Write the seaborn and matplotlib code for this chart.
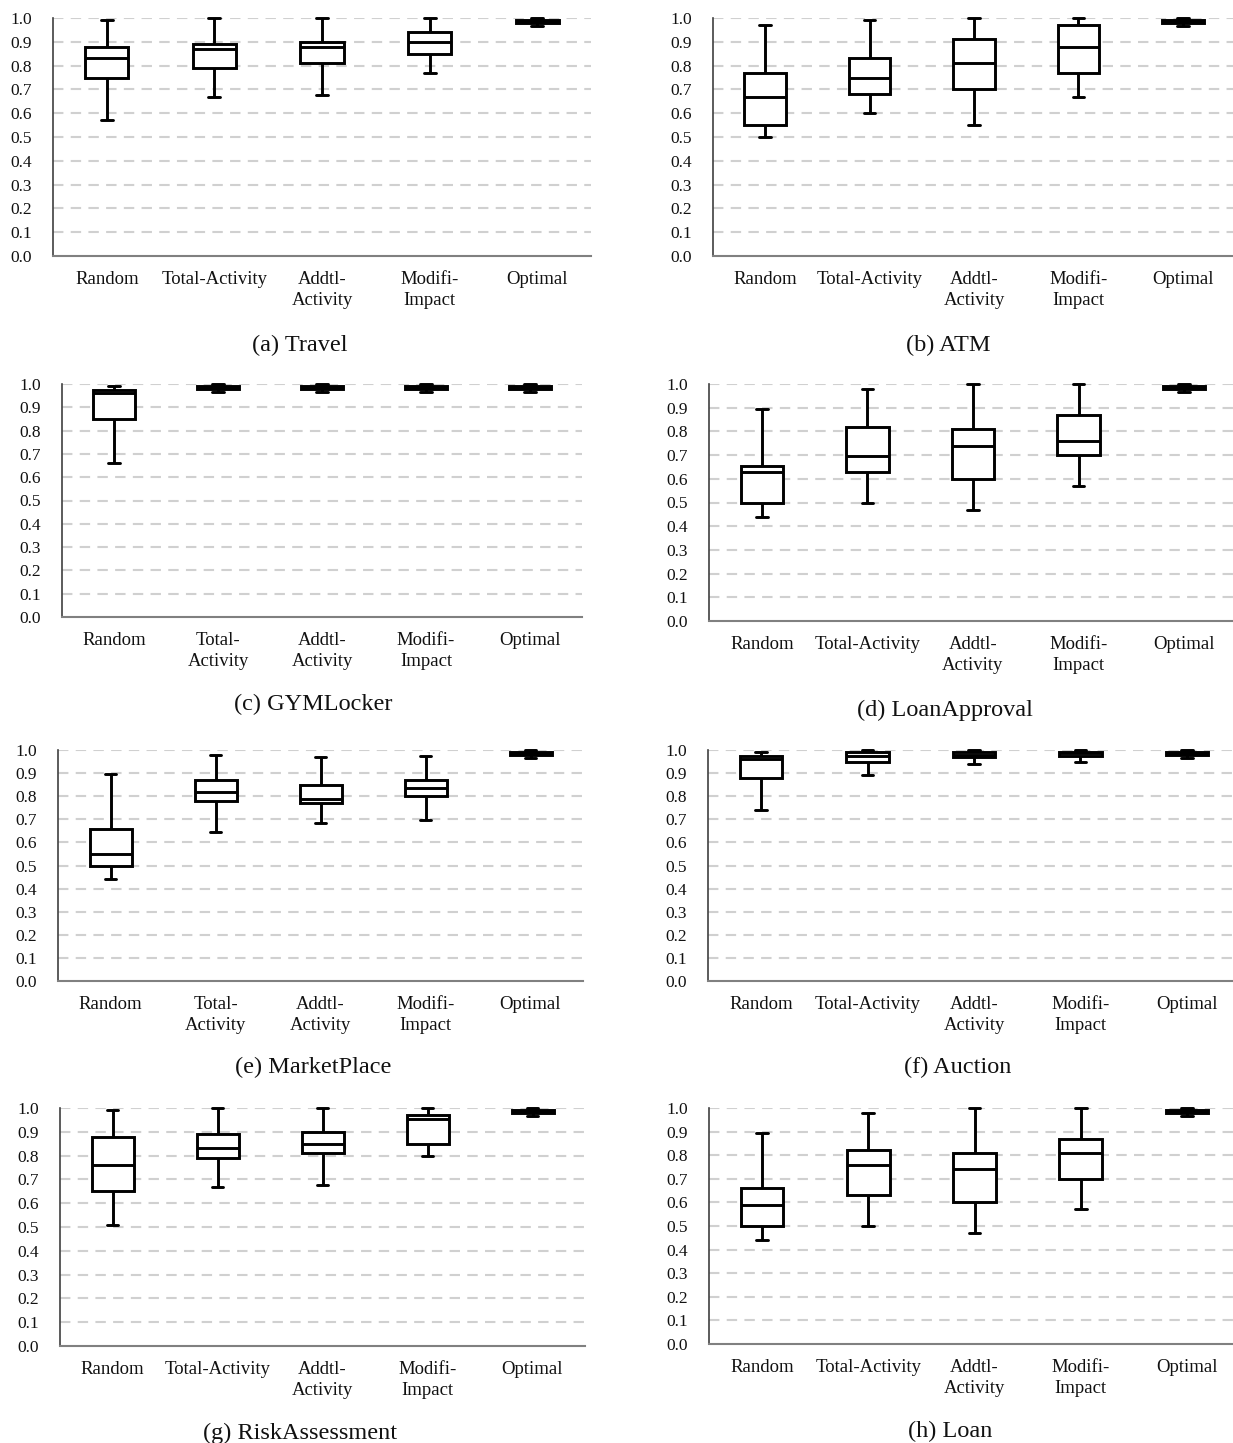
import numpy as np
import pandas as pd
import matplotlib
matplotlib.use("Agg")
import matplotlib.pyplot as plt
import seaborn as sns

# ---------------- data (five-number summaries: min, q1, median, q3, max) ----------------
methods = ["Random", "Total-Activity", "Addtl-Activity", "Modifi-Impact", "Optimal"]

labels_wrap_total = ["Random", "Total-\nActivity", "Addtl-\nActivity", "Modifi-\nImpact", "Optimal"]
labels_flat_total = ["Random", "Total-Activity", "Addtl-\nActivity", "Modifi-\nImpact", "Optimal"]

optimal = [0.965, 0.98, 0.985, 0.99, 1.0]

travel_random = [0.57, 0.75, 0.83, 0.88, 0.99]
travel_total = [0.67, 0.79, 0.87, 0.89, 1.0]
travel_addtl = [0.675, 0.81, 0.88, 0.90, 1.0]
travel_modifi = [0.77, 0.85, 0.90, 0.94, 1.0]

atm_random = [0.50, 0.55, 0.67, 0.77, 0.97]
atm_total = [0.60, 0.68, 0.75, 0.83, 0.99]
atm_addtl = [0.55, 0.70, 0.81, 0.91, 1.0]
atm_modifi = [0.67, 0.77, 0.88, 0.97, 1.0]

gym_random = [0.66, 0.85, 0.96, 0.975, 0.99]
gym_total = [0.965, 0.98, 0.985, 0.99, 1.0]
gym_addtl = [0.965, 0.98, 0.985, 0.99, 1.0]
gym_modifi = [0.965, 0.98, 0.985, 0.99, 1.0]

loanappr_random = [0.44, 0.50, 0.63, 0.655, 0.895]
loanappr_total = [0.50, 0.63, 0.695, 0.82, 0.98]
loanappr_addtl = [0.47, 0.60, 0.74, 0.81, 1.0]
loanappr_modifi = [0.57, 0.70, 0.76, 0.87, 1.0]

market_random = [0.44, 0.50, 0.55, 0.66, 0.895]
market_total = [0.645, 0.78, 0.82, 0.87, 0.98]
market_addtl = [0.685, 0.77, 0.79, 0.85, 0.97]
market_modifi = [0.695, 0.80, 0.835, 0.87, 0.975]

auction_random = [0.74, 0.88, 0.96, 0.975, 0.99]
auction_total = [0.89, 0.95, 0.975, 0.99, 1.0]
auction_addtl = [0.94, 0.97, 0.98, 0.99, 1.0]
auction_modifi = [0.95, 0.975, 0.985, 0.99, 1.0]

risk_random = [0.51, 0.65, 0.76, 0.88, 0.99]
risk_total = [0.67, 0.79, 0.83, 0.89, 1.0]
risk_addtl = [0.675, 0.81, 0.85, 0.90, 1.0]
risk_modifi = [0.80, 0.85, 0.955, 0.97, 1.0]

loan_random = [0.44, 0.50, 0.59, 0.66, 0.895]
loan_total = [0.50, 0.63, 0.76, 0.82, 0.98]
loan_addtl = [0.47, 0.60, 0.74, 0.81, 1.0]
loan_modifi = [0.57, 0.70, 0.81, 0.87, 1.0]

titles = ["(a) Travel", "(b) ATM", "(c) GYMLocker", "(d) LoanApproval",
          "(e) MarketPlace", "(f) Auction", "(g) RiskAssessment", "(h) Loan"]

panels = [
    [travel_random, travel_total, travel_addtl, travel_modifi, optimal],
    [atm_random, atm_total, atm_addtl, atm_modifi, optimal],
    [gym_random, gym_total, gym_addtl, gym_modifi, optimal],
    [loanappr_random, loanappr_total, loanappr_addtl, loanappr_modifi, optimal],
    [market_random, market_total, market_addtl, market_modifi, optimal],
    [auction_random, auction_total, auction_addtl, auction_modifi, optimal],
    [risk_random, risk_total, risk_addtl, risk_modifi, optimal],
    [loan_random, loan_total, loan_addtl, loan_modifi, optimal],
]
panel_labels = [labels_flat_total, labels_flat_total, labels_wrap_total, labels_flat_total,
                labels_wrap_total, labels_flat_total, labels_flat_total, labels_flat_total]

# ---------------- layout (pixels) ----------------
W, H = 1233, 1443
# (left, right, y_top(1.0), y_bottom(0.0))
axes_px = [
    (53, 591, 18, 256), (713, 1235, 18, 256),
    (62, 582, 384, 617), (709, 1237, 384, 621),
    (58, 583, 750, 981), (708, 1240, 750, 981),
    (60, 585, 1108, 1346), (709, 1240, 1108, 1344),
]
title_px = [(300, 345), (948, 345), (313, 704), (945, 710),
            (313, 1067), (958, 1067), (300, 1433), (950, 1431)]

sns.set_theme(style="white")
plt.rcParams["font.family"] = ["Liberation Serif", "DejaVu Serif"]

fig = plt.figure(figsize=(W / 100, H / 100), dpi=100)
fig.patch.set_facecolor("white")

yticks = np.round(np.arange(0, 1.01, 0.1), 1)

for i, (vals, labs) in enumerate(zip(panels, panel_labels)):
    l, r, t, b = axes_px[i]
    ax = fig.add_axes([l / W, 1 - b / H, (r - l) / W, (b - t) / H])
    rows = []
    for m, v in zip(methods, vals):
        for x in v:
            rows.append({"method": m, "value": x})
    df = pd.DataFrame(rows)
    sns.boxplot(data=df, x="method", y="value", order=methods, whis=(0, 100),
                width=0.4, color="white", linecolor="black", linewidth=2.1,
                showfliers=False, capwidths=0.11, ax=ax, zorder=3)
    for art in list(ax.lines) + list(ax.patches):
        art.set_clip_on(False)
    ax.set_ylim(0, 1.0)
    ax.set_xlim(-0.5, 4.5)
    ax.set_xlabel("")
    ax.set_ylabel("")
    for yv in yticks[1:]:
        ax.axhline(yv, color="#d0d0d0", lw=1.5, dashes=(5, 3.5), zorder=0)
    ax.set_yticks(yticks)
    ax.set_yticklabels([f"{v:.1f}" for v in yticks])
    ax.set_xticks(range(5))
    ax.set_xticklabels(labs, linespacing=1.25)
    ax.set_xticks(np.arange(-0.5, 5, 1.0), minor=True)
    ax.tick_params(axis="x", which="major", length=0, pad=11, labelsize=13.5, labelcolor="#111111")
    ax.tick_params(axis="x", which="minor", length=5, width=1.2, direction="out", color="#808080")
    ax.tick_params(axis="y", which="major", length=4, width=1.2, direction="out", color="#404040",
                   pad=11, labelsize=12.5, labelcolor="#111111")
    for s in ["top", "right"]:
        ax.spines[s].set_visible(False)
    ax.spines["left"].set_color("#404040")
    ax.spines["left"].set_linewidth(1.2)
    ax.spines["bottom"].set_color("#808080")
    ax.spines["bottom"].set_linewidth(1.5)
    ax.set_facecolor("white")
    tx, ty = title_px[i]
    fig.text(tx / W, 1 - ty / H, titles[i], ha="center", va="center", fontsize=17.5, color="#111111")

fig.savefig("out.png", dpi=100, facecolor="white")
